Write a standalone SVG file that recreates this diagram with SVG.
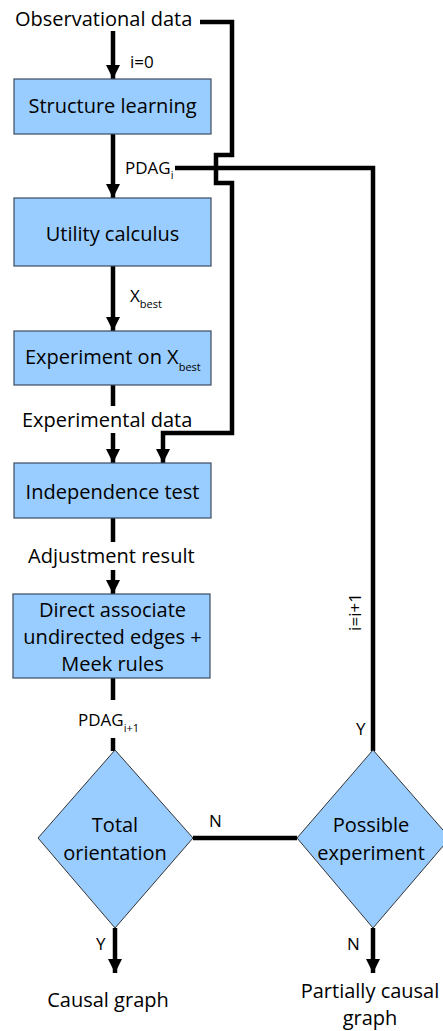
<svg xmlns="http://www.w3.org/2000/svg" width="443" height="1031" viewBox="0 0 443 1031">
<style>
text{font-family:"Open Sans","Liberation Sans",sans-serif;font-size:20px;fill:#000}
.c{text-anchor:middle}
.sub{font-size:11px}
.box{fill:#99ccff;stroke:#3b4a5e;stroke-width:1.2}
.ln{fill:none;stroke:#000;stroke-width:4.5}
</style>
<defs>
<marker id="ah" markerUnits="userSpaceOnUse" markerWidth="16" markerHeight="16" viewBox="0 0 16 16" refX="14" refY="8" orient="auto">
<path d="M0,1 L14,8 L0,15 Z" fill="#000"/>
</marker>
</defs>
<rect width="443" height="1031" fill="#fff"/>
<g id="connectors">
<line class="ln" x1="113" y1="31" x2="113" y2="79" marker-end="url(#ah)"/>
<line class="ln" x1="113" y1="134" x2="113" y2="198" marker-end="url(#ah)"/>
<line class="ln" x1="113" y1="266" x2="113" y2="331" marker-end="url(#ah)"/>
<line class="ln" x1="113" y1="385" x2="113" y2="406"/>
<line class="ln" x1="113" y1="433" x2="113" y2="463" marker-end="url(#ah)"/>
<path class="ln" d="M200,22 H232 V155 H216 V183 H232 V433 H163 V463" marker-end="url(#ah)"/>
<line class="ln" x1="113" y1="518" x2="113" y2="542"/>
<line class="ln" x1="113" y1="570" x2="113" y2="594" marker-end="url(#ah)"/>
<line class="ln" x1="113" y1="678" x2="113" y2="700"/>
<line class="ln" x1="113" y1="738" x2="113" y2="751"/>
<line class="ln" x1="193" y1="838" x2="297" y2="838"/>
<path class="ln" d="M373,751 V168 H175"/>
<line class="ln" x1="115" y1="928" x2="115" y2="973" marker-end="url(#ah)"/>
<line class="ln" x1="373" y1="928" x2="373" y2="973" marker-end="url(#ah)"/>
</g>
<g id="labels">
<text x="15" y="26">Observational data</text>
<text x="130" y="68" style="font-size:17px">i=0</text>
<text x="125" y="174" style="font-size:17px">PDAG<tspan class="sub" dy="5">i</tspan></text>
<text x="130" y="302" style="font-size:17px">X<tspan class="sub" dy="6">best</tspan></text>
<text x="22" y="427">Experimental data</text>
<text x="28" y="563">Adjustment result</text>
<text x="78" y="726" style="font-size:17px">PDAG<tspan class="sub" dy="6">i+1</tspan></text>
<text x="209" y="827" style="font-size:17px">N</text>
<text x="361" y="612" class="c" style="font-size:17px" transform="rotate(-90 361 612)">i=i+1</text>
<text x="356" y="735" style="font-size:17px">Y</text>
<text x="96" y="950" style="font-size:17px">Y</text>
<text x="347" y="950" style="font-size:17px">N</text>
<text x="108" y="1007" class="c">Causal graph</text>
<text x="370" y="998" class="c">Partially causal</text>
<text x="370" y="1025" class="c">graph</text>
</g>
<g id="structure-learning"><rect class="box" x="14" y="79" width="197" height="55"/><text x="112.5" y="113" class="c">Structure learning</text></g>
<g id="utility-calculus"><rect class="box" x="14" y="198" width="197" height="68"/><text x="112.5" y="241" class="c">Utility calculus</text></g>
<g id="experiment"><rect class="box" x="14" y="331" width="197" height="54"/><text x="25" y="364">Experiment on X<tspan class="sub" dy="7">best</tspan></text></g>
<g id="independence-test"><rect class="box" x="14" y="463" width="197" height="55"/><text x="112.5" y="499" class="c">Independence test</text></g>
<g id="direct-associate"><rect class="box" x="13" y="594" width="197" height="84"/><text x="112.5" y="617" class="c">Direct associate</text><text x="112.5" y="644" class="c">undirected edges +</text><text x="112.5" y="671" class="c">Meek rules</text></g>
<g id="total-orientation"><path class="box" d="M115,750 L193,838 L115,928 L38,838 Z" style="stroke:#333;stroke-width:1"/><text x="115" y="832" class="c">Total</text><text x="115" y="860" class="c">orientation</text></g>
<g id="possible-experiment"><path class="box" d="M373,750 L450,838 L373,928 L297,838 Z" style="stroke:#333;stroke-width:1"/><text x="371" y="832" class="c">Possible</text><text x="371" y="860" class="c">experiment</text></g>
</svg>
